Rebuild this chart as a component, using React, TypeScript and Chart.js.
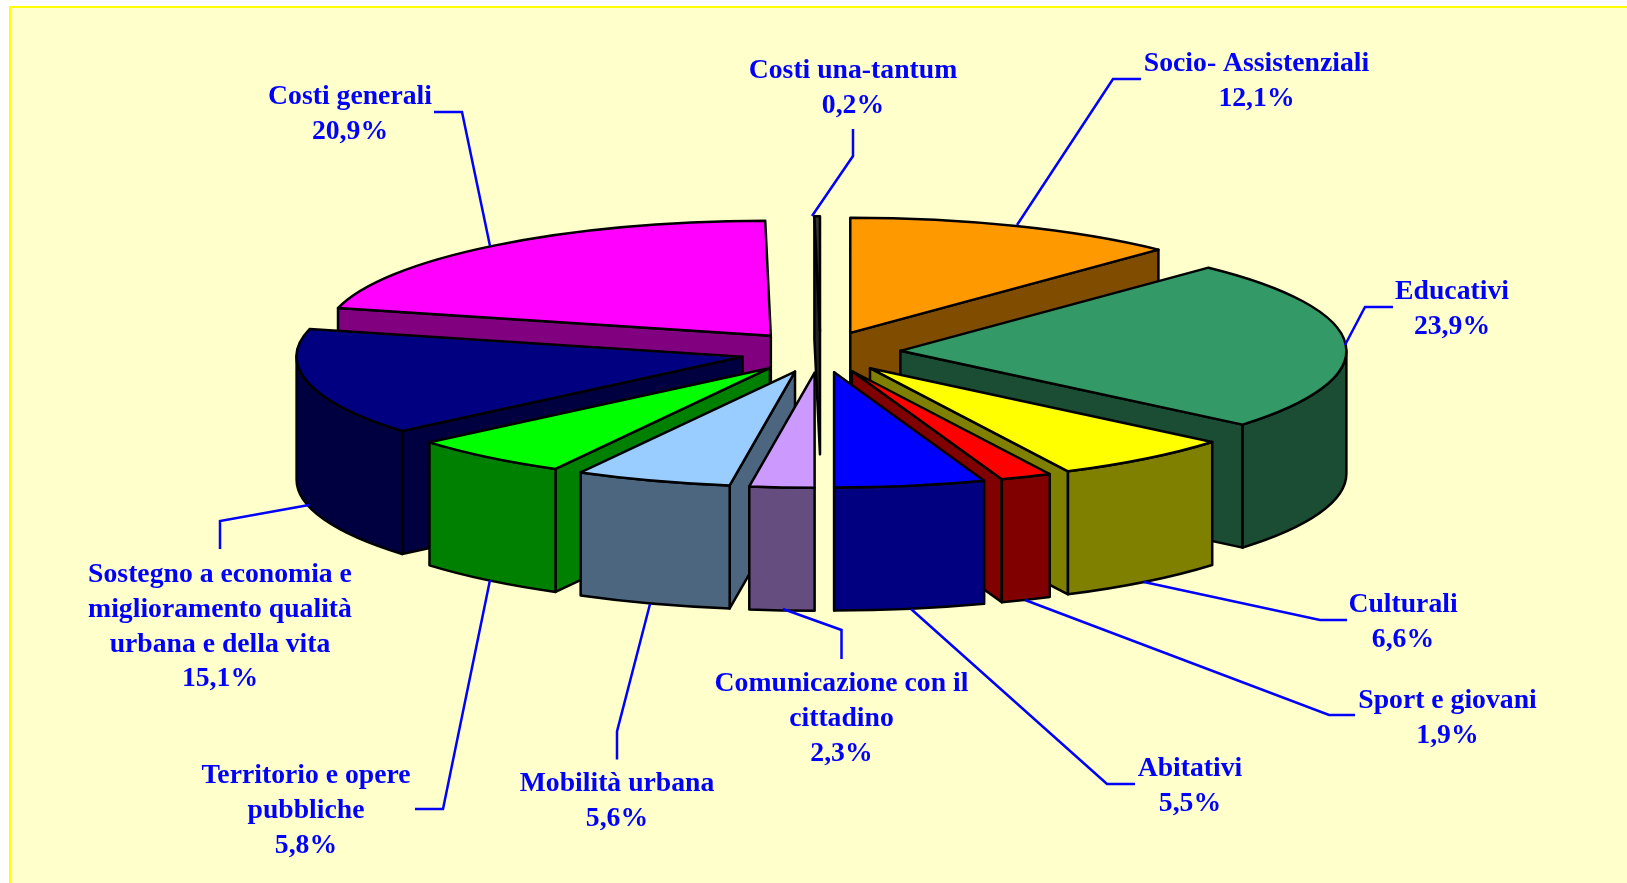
import React, { useEffect, useRef } from "react";
import { Chart, registerables } from "chart.js";

Chart.register(...registerables);

const categories = [
  "Socio- Assistenziali",
  "Educativi",
  "Culturali",
  "Sport e giovani",
  "Abitativi",
  "Comunicazione con il cittadino",
  "Mobilità urbana",
  "Territorio e opere pubbliche",
  "Sostegno a economia e miglioramento qualità urbana e della vita",
  "Costi generali",
  "Costi una-tantum",
];
const values = [12.14, 23.94, 6.6, 1.86, 5.46, 2.34, 5.64, 5.84, 15.06, 20.92, 0.2];
const topColors = ["#FF9900", "#339966", "#FFFF00", "#FF0000", "#0000FF", "#CC99FF", "#99CCFF", "#00FF00", "#000080", "#FF00FF", "#333333"];
const wallColors = ["#804D00", "#1A4D33", "#808000", "#800000", "#000080", "#664D80", "#4D6680", "#008000", "#000040", "#800080", "#222222"];

// Label text, one entry per wrapped line (the percentage line is added from values)
const labelLines = [
  ["Socio- Assistenziali"],
  ["Educativi"],
  ["Culturali"],
  ["Sport e giovani"],
  ["Abitativi"],
  ["Comunicazione con il", "cittadino"],
  ["Mobilità urbana"],
  ["Territorio e opere", "pubbliche"],
  ["Sostegno a economia e", "miglioramento qualità", "urbana e della vita"],
  ["Costi generali"],
  ["Costi una-tantum"],
];
const labelCenters = [1256.5, 1452, 1403, 1447.5, 1190, 841.5, 617, 306, 220, 350, 853];
const labelFirstBaselines = [71, 299, 612, 708, 776, 691, 791, 783, 582, 104, 78];
const leaders = [
  [[1141, 79], [1113, 79], [1017, 225]],
  [[1393, 307], [1365, 307], [1345, 345]],
  [[1347, 620], [1320, 620], [1144, 582]],
  [[1355, 715], [1329, 715], [1025, 600]],
  [[1135, 784], [1107, 784], [911, 609]],
  [[841.5, 659], [841.5, 630], [783, 609]],
  [[617, 759.5], [617, 731.5], [650, 604]],
  [[415, 809], [443, 809], [490, 580]],
  [[220, 549], [220, 521], [309, 505]],
  [[434, 112], [462, 112], [490, 246]],
  [[853, 129], [853, 156], [812, 216]],
];

const TILT = 0.258;
const DEPTH = 123;
const EXPLODE = 80;
const RADIUS = 446;
const LINE_HEIGHT = 34.8;
const FONT = 'bold 27.7px "Liberation Serif"';

const pie3d = {
  id: "pie3d",
  beforeDatasetDraw(chart: any, args: any) {
    const ctx = chart.ctx;
    const arcs = args.meta.data.map((arc: any, i: number) => ({ arc, i }));
    arcs.sort(
      (p: any, q: any) =>
        Math.sin((p.arc.startAngle + p.arc.endAngle) / 2) - Math.sin((q.arc.startAngle + q.arc.endAngle) / 2)
    );
    ctx.save();
    ctx.lineWidth = 2.5;
    ctx.lineJoin = "round";
    ctx.strokeStyle = "#000";
    for (const { arc, i } of arcs) {
      const { x, y, startAngle: a0, endAngle: a1, outerRadius: R } = arc;
      const mid = (a0 + a1) / 2;
      const ax = x + EXPLODE * Math.cos(mid);
      const ay = y + TILT * EXPLODE * Math.sin(mid);
      const px = (a: number) => ax + R * Math.cos(a);
      const py = (a: number) => ay + TILT * R * Math.sin(a);
      ctx.fillStyle = wallColors[i];

      const face = (a: number) => {
        ctx.beginPath();
        ctx.moveTo(ax, ay);
        ctx.lineTo(px(a), py(a));
        ctx.lineTo(px(a), py(a) + DEPTH);
        ctx.lineTo(ax, ay + DEPTH);
        ctx.closePath();
        ctx.fill();
        ctx.stroke();
      };
      if (Math.cos(a0) < 0) face(a0);
      if (Math.cos(a1) > 0) face(a1);

      const w0 = Math.max(a0, 0);
      const w1 = Math.min(a1, Math.PI);
      if (w1 > w0) {
        ctx.beginPath();
        ctx.ellipse(ax, ay, R, TILT * R, 0, w0, w1);
        ctx.ellipse(ax, ay + DEPTH, R, TILT * R, 0, w1, w0, true);
        ctx.closePath();
        ctx.fill();
        ctx.stroke();
      }

      // The library paints the slice top; the transform explodes and tilts it.
      ctx.save();
      ctx.translate(ax, ay);
      ctx.scale(1, TILT);
      ctx.translate(-x, -y);
      arc.draw(ctx);
      ctx.restore();

      ctx.beginPath();
      ctx.moveTo(ax, ay);
      ctx.ellipse(ax, ay, R, TILT * R, 0, a0, a1);
      ctx.closePath();
      ctx.stroke();
    }
    ctx.restore();
    return false;
  },
  afterDatasetsDraw(chart: any) {
    const ctx = chart.ctx;
    ctx.save();
    ctx.strokeStyle = "#0000FF";
    ctx.lineWidth = 2.5;
    ctx.lineJoin = "miter";
    for (const line of leaders) {
      ctx.beginPath();
      line.forEach(([lx, ly], j) => (j ? ctx.lineTo(lx, ly) : ctx.moveTo(lx, ly)));
      ctx.stroke();
    }
    ctx.fillStyle = "#0000FF";
    ctx.font = FONT;
    ctx.textAlign = "center";
    ctx.textBaseline = "alphabetic";
    labelLines.forEach((lines, i) => {
      const all = [...lines, values[i].toFixed(1).replace(".", ",") + "%"];
      all.forEach((t, j) => ctx.fillText(t, labelCenters[i], labelFirstBaselines[i] + j * LINE_HEIGHT));
    });
    ctx.restore();
  },
};

export default function App() {
  const ref = useRef<HTMLCanvasElement>(null);
  useEffect(() => {
    document.documentElement.style.margin = "0";
    document.body.style.margin = "0";
    document.body.style.background = "#fff";
    const chart = new Chart(ref.current as HTMLCanvasElement, {
      type: "pie",
      data: {
        labels: categories,
        datasets: [
          {
            data: values,
            backgroundColor: topColors,
            borderWidth: 0,
            radius: RADIUS,
          } as any,
        ],
      },
      options: {
        animation: false,
        responsive: false,
        devicePixelRatio: 1,
        events: [],
        rotation: 0,
        layout: { padding: { left: 14, right: 0, top: 0, bottom: 179 } },
        plugins: { legend: { display: false }, tooltip: { enabled: false } },
      } as any,
      plugins: [pie3d as any],
    });
    return () => chart.destroy();
  }, []);
  return (
    <div style={{ position: "relative", width: 1627, height: 883, overflow: "hidden", background: "#fff" }}>
      <div
        style={{
          position: "absolute",
          left: 9,
          top: 6,
          right: 0,
          bottom: 0,
          background: "#FFFFCC",
          borderLeft: "2px solid #FFFF00",
          borderTop: "2px solid #FFFF00",
        }}
      />
      <canvas ref={ref} width={1627} height={883} style={{ position: "absolute", left: 0, top: 0, display: "block" }} />
    </div>
  );
}
